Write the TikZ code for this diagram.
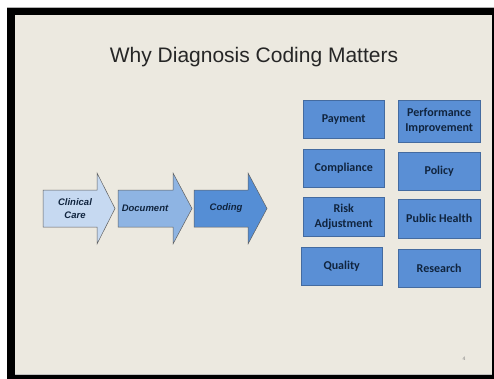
\documentclass[tikz,border=0pt]{standalone}
\usepackage{fontspec}
\setmainfont{Liberation Sans}
\newfontfamily\calibrifont{Carlito}
\definecolor{slidebg}{HTML}{ECE9E0}
\definecolor{arrowblue1}{HTML}{C6D9F1}
\definecolor{arrowblue2}{HTML}{8EB4E3}
\definecolor{arrowblue3}{HTML}{558ED5}
\definecolor{boxblue}{HTML}{5A8FD5}
\definecolor{textnavy}{HTML}{10243E}

\tikzset{
  flowarrow/.style={draw=gray!75!black, line width=0.5pt},
  arrowtext/.style={font=\fontsize{9.5}{13}\selectfont\bfseries\itshape, text=textnavy, align=center},
  reasonbox/.style={fill=boxblue, draw=boxblue!75!black, line width=0.4pt, anchor=north west,
    minimum width=81pt, minimum height=38pt, inner sep=0pt,
    font=\calibrifont\fontsize{12}{15}\selectfont\bfseries, text=textnavy, align=center}
}

\begin{document}
\begin{tikzpicture}[x=1pt,y=-1pt]
  \useasboundingbox (0,0) rectangle (494,379);
  % slide frame
  \fill[white] (0,0) rectangle (494,379);
  \fill[black] (7,7) rectangle (494,379);
  \fill[gray!60] (7,7) rectangle (494,8);
  \fill[slidebg] (15,15) rectangle (492,375);
  \fill[gray!50] (15,374) rectangle (492,375);

  \node[font=\fontsize{21}{25}\selectfont, text=black!85] (title) at (254,57) {Why Diagnosis Coding Matters};

  % process arrows
  \draw[flowarrow, fill=arrowblue1] (43,190) -- (97,190) -- (97,173) -- (115,208.5) -- (97,244) -- (97,227) -- (43,227) -- cycle;
  \draw[flowarrow, fill=arrowblue2] (118,190) -- (173,190) -- (173,173) -- (192,208.5) -- (173,244) -- (173,227) -- (118,227) -- cycle;
  \draw[flowarrow, fill=arrowblue3] (194,190) -- (248,190) -- (248,173) -- (267,208.5) -- (248,244) -- (248,227) -- (194,227) -- cycle;
  \node[arrowtext] (care) at (75,208.5) {Clinical\\Care};
  \node[arrowtext] (document) at (145,208.5) {Document};
  \node[arrowtext] (coding) at (226,208.5) {Coding};

  % reasons
  \node[reasonbox] (payment) at (303,100) {Payment};
  \node[reasonbox] (compliance) at (303,149) {Compliance};
  \node[reasonbox, minimum height=39pt] (risk) at (303,197) {Risk\\Adjustment};
  \node[reasonbox] (quality) at (301,247) {Quality};
  \node[reasonbox, minimum width=82pt, minimum height=42pt] (performance) at (398,100) {Performance\\Improvement};
  \node[reasonbox, minimum width=82pt] (policy) at (398,152) {Policy};
  \node[reasonbox, minimum width=82pt, minimum height=39pt] (health) at (398,199) {Public Health};
  \node[reasonbox, minimum width=82pt] (research) at (398,249) {Research};

  \node[font=\fontsize{5}{6}\selectfont, text=gray] (pagenum) at (464,359) {4};
\end{tikzpicture}
\end{document}
